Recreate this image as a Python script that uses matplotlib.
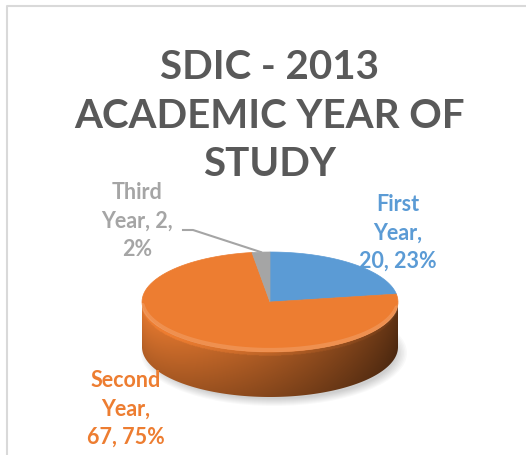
import numpy as np
import matplotlib.pyplot as plt
from matplotlib.patches import Polygon, Ellipse
from matplotlib.colors import to_rgb

# data
categories = ["First Year", "Second Year", "Third Year"]
counts = [20, 67, 2]
percents = ["23%", "75%", "2%"]
colors = ["#5B9BD5", "#ED7D31", "#A5A5A5"]

title = "SDIC - 2013\nACADEMIC YEAR OF\nSTUDY"

# pie geometry (pixel space of the figure)
cx, cy = 270, 302
rx, ry = 128, 50
depth = 45

W, H = 526, 455
fig = plt.figure(figsize=(W / 100, H / 100), dpi=100)
ax = fig.add_axes([0, 0, 1, 1])
ax.set_xlim(0, W)
ax.set_ylim(H, 0)
ax.axis("off")

# frame of the chart area (only top and left visible)
ax.plot([6.5, 6.5, W], [H, 5.5, 5.5], color="#D9D9D9", lw=1.5)


def rim(t):
    return cx + rx * np.sin(t), cy - ry * np.cos(t)


# slice angles, clockwise from 12 o'clock
fracs = np.array(counts) / sum(counts)
ends = np.cumsum(fracs) * 2 * np.pi
starts = ends - fracs * 2 * np.pi

# soft shadow below the pie
for k in range(8):
    ax.add_patch(Ellipse((cx + 4, cy + depth + 6), 2 * rx + 10 - k * 3, 2 * ry + 6 - k * 2,
                         color="#000000", alpha=0.025, lw=0, zorder=1))

# side wall (front half): gradient image clipped to the wall outline
tf = np.linspace(np.pi / 2, 3 * np.pi / 2, 200)
fx, fy = rim(tf)
wall = list(zip(fx, fy)) + list(zip(fx[::-1], fy[::-1] + depth))
wall_patch = Polygon(wall, closed=True, facecolor="none", edgecolor="none")
ax.add_patch(wall_patch)

gx = np.linspace(cx - rx, cx + rx, 300)
gy = np.linspace(cy - 2, cy + ry + depth + 2, 160)
X, Y = np.meshgrid(gx, gy)
top_y = cy + ry * np.sqrt(np.clip(1 - ((X - cx) / rx) ** 2, 0, 1))
d = np.clip((Y - top_y) / depth, 0, 1)
u = (cx + rx - X) / (2 * rx)  # 0 at right edge, 1 at left edge
f = 0.36 + 0.50 * u ** 0.85
f = f * (1.12 - 0.25 * d)
f = np.where(d < 0.08, f * 1.12, f)
f = np.clip(f, 0, 1)
# wall colour comes from the slice that owns that part of the rim
ang = np.arctan2(X - cx, -(np.clip(top_y, cy, None) - cy) / ry * rx) % (2 * np.pi)
idx = np.minimum(np.searchsorted(ends, ang), len(colors) - 1)
base = np.array([to_rgb(c) for c in colors])[idx]
img = np.clip(base * f[..., None], 0, 1)
im = ax.imshow(img, extent=(gx[0], gx[-1], gy[-1], gy[0]), origin="upper",
               interpolation="bilinear", zorder=2, aspect="auto")
im.set_clip_path(wall_patch)

# top face
for s, e, c in zip(starts, ends, colors):
    tt = np.linspace(s, e, 100)
    xs, ys = rim(tt)
    pts = [(cx, cy)] + list(zip(xs, ys))
    ax.add_patch(Polygon(pts, closed=True, facecolor=c, edgecolor=c, lw=0.5, zorder=3))

# light bevel along the front rim of the top face
tt = np.linspace(np.pi / 2 + 0.15, 3 * np.pi / 2 - 0.1, 200)
bx, by = rim(tt)
ax.plot(bx, by - 2, color="white", alpha=0.15, lw=3, zorder=4, solid_capstyle="round")

# title
ax.text(270, 116, title, ha="center", va="center", fontsize=29, fontweight="bold",
        color="#595959", family="Lato", linespacing=1.37, zorder=5)

# data labels
label_pos = [(398, 233), (126, 409), (137, 221)]
label_text = ["First\nYear,\n{}, {}", "Second\nYear,\n{}, {}", "Third\nYear, {},\n{}"]
for (lx, ly), fmt, v, p, c in zip(label_pos, label_text, counts, percents, colors):
    ax.text(lx, ly, fmt.format(v, p), ha="center", va="center", fontsize=15.5,
            fontweight="bold", color=c, family="Lato", linespacing=1.42, zorder=5)

# leader line for the small slice
tm = 0.5 * (starts[2] + ends[2])
ex, ey = rim(tm)
ax.plot([183, 193, ex], [230, 230, ey], color="#A5A5A5", lw=1.5, zorder=5)

fig.savefig("out.png", dpi=100)
